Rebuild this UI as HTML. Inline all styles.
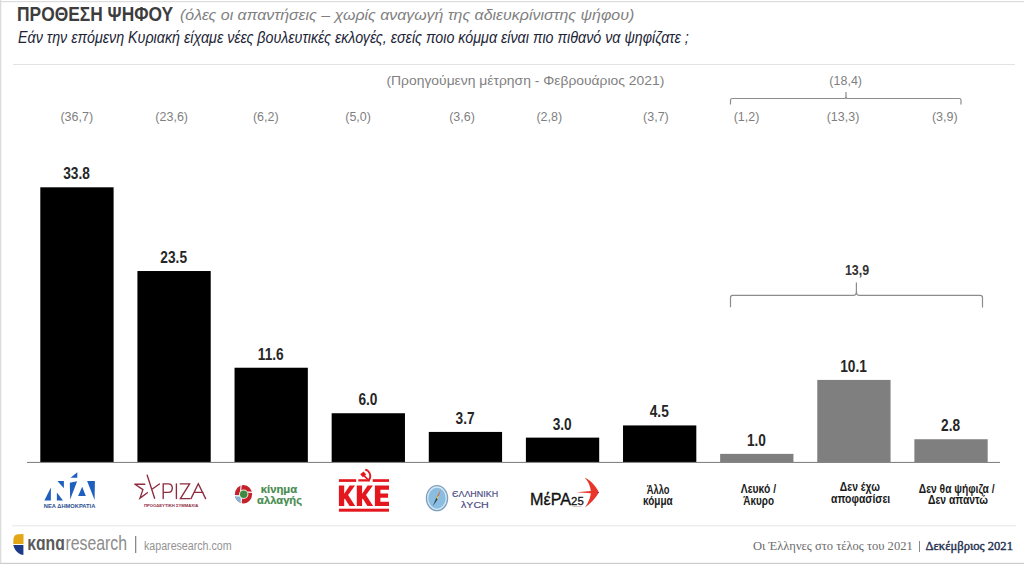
<!DOCTYPE html>
<html><head><meta charset="utf-8">
<style>
html,body{margin:0;padding:0;background:#fff;}
body{width:1024px;height:564px;overflow:hidden;position:relative;}
svg{position:absolute;left:0;top:0;display:block;}
text{font-family:"Liberation Sans",sans-serif;}
.val{font-size:16.5px;font-weight:bold;fill:#262626;text-anchor:middle;}
.prev{font-size:12.5px;fill:#7f7f7f;text-anchor:middle;}
</style></head><body>
<svg width="1024" height="564" viewBox="0 0 1024 564">
<rect x="0" y="0" width="1024" height="564" fill="#fff"/>
<rect x="0" y="1" width="1024" height="1.2" fill="#dcdcdc"/>
<rect x="0" y="0" width="1.3" height="564" fill="#dcdcdc"/>
<rect x="0" y="562.8" width="1024" height="1.2" fill="#cdcdcd"/>
<rect x="13" y="64" width="1002" height="1" fill="#e3e3e3"/>
<path d="M730.5,104.6 V100.3 Q730.5,98.5 732.3,98.5 H844.5 Q846,98.5 846,96 V92 M846,96 Q846,98.5 847.5,98.5 H959.2 Q961,98.5 961,100.3 V104.6" fill="none" stroke="#8c8c8c" stroke-width="1.2"/>
<text x="845.7" y="85" class="prev">(18,4)</text>
<text x="76.75" y="121.2" class="prev">(36,7)</text>
<text x="171.70" y="121.2" class="prev">(23,6)</text>
<text x="265.80" y="121.2" class="prev">(6,2)</text>
<text x="358.10" y="121.2" class="prev">(5,0)</text>
<text x="462.00" y="121.2" class="prev">(3,6)</text>
<text x="549.30" y="121.2" class="prev">(2,8)</text>
<text x="655.90" y="121.2" class="prev">(3,7)</text>
<text x="746.50" y="121.2" class="prev">(1,2)</text>
<text x="843.00" y="121.2" class="prev">(13,3)</text>
<text x="944.80" y="121.2" class="prev">(3,9)</text>
<rect x="40.30" y="187.31" width="73.3" height="274.69" fill="#000000"/>
<rect x="137.42" y="271.02" width="73.3" height="190.98" fill="#000000"/>
<rect x="234.54" y="367.73" width="73.3" height="94.27" fill="#000000"/>
<rect x="331.66" y="413.24" width="73.3" height="48.76" fill="#000000"/>
<rect x="428.78" y="431.93" width="73.3" height="30.07" fill="#000000"/>
<rect x="525.90" y="437.62" width="73.3" height="24.38" fill="#000000"/>
<rect x="623.02" y="425.43" width="73.3" height="36.57" fill="#000000"/>
<rect x="720.14" y="453.87" width="73.3" height="8.13" fill="#7f7f7f"/>
<rect x="817.26" y="379.92" width="73.3" height="82.08" fill="#7f7f7f"/>
<rect x="914.38" y="439.24" width="73.3" height="22.76" fill="#7f7f7f"/>
<rect x="27" y="461.9" width="973" height="1.1" fill="#858585"/>
<text transform="translate(76.55,179.21) scale(0.83,1)" class="val">33.8</text>
<text transform="translate(173.67,262.92) scale(0.83,1)" class="val">23.5</text>
<text transform="translate(270.79,359.63) scale(0.83,1)" class="val">11.6</text>
<text transform="translate(367.91,405.14) scale(0.83,1)" class="val">6.0</text>
<text transform="translate(465.03,423.83) scale(0.83,1)" class="val">3.7</text>
<text transform="translate(562.15,429.52) scale(0.83,1)" class="val">3.0</text>
<text transform="translate(659.27,417.33) scale(0.83,1)" class="val">4.5</text>
<text transform="translate(756.39,445.77) scale(0.83,1)" class="val">1.0</text>
<text transform="translate(853.51,371.82) scale(0.83,1)" class="val">10.1</text>
<text transform="translate(950.63,431.14) scale(0.83,1)" class="val">2.8</text>
<path d="M730.5,307.3 V297.5 Q730.5,295.3 732.5,295.3 H854 Q856.4,295.3 856.4,291 V282.5 M856.4,291 Q856.4,295.3 858.8,295.3 H980.3 Q982.5,295.3 982.5,297.5 V307.4" fill="none" stroke="#8c8c8c" stroke-width="1.2"/>
<text transform="translate(857,275) scale(0.89,1)" font-size="14" font-weight="bold" fill="#333" text-anchor="middle">13,9</text>
<text x="17.01" y="21" font-size="21" font-weight="bold" fill="#3d3d3d" textLength="156.09" lengthAdjust="spacingAndGlyphs">ΠΡΟΘΕΣΗ ΨΗΦΟΥ</text>
<text x="180.05" y="20" font-size="14" font-style="italic" fill="#7f7f7f" textLength="454.23" lengthAdjust="spacingAndGlyphs">(όλες οι απαντήσεις – χωρίς αναγωγή της αδιευκρίνιστης ψήφου)</text>
<text x="18.02" y="42.6" font-size="16" font-style="italic" fill="#1c2436" textLength="670.81" lengthAdjust="spacingAndGlyphs">Εάν την επόμενη Κυριακή είχαμε νέες βουλευτικές εκλογές, εσείς ποιο κόμμα είναι πιο πιθανό να ψηφίζατε ;</text>
<text x="386.45" y="85.2" font-size="12.5" fill="#7f7f7f" textLength="277.89" lengthAdjust="spacingAndGlyphs">(Προηγούμενη μέτρηση - Φεβρουάριος 2021)</text>
<text x="646.76" y="493.5" font-size="12.3" font-weight="bold" fill="#1a1a1a" textLength="22.70" lengthAdjust="spacingAndGlyphs">Άλλο</text>
<text x="643.00" y="505.4" font-size="12.3" font-weight="bold" fill="#1a1a1a" textLength="29.66" lengthAdjust="spacingAndGlyphs">κόμμα</text>
<text x="740.78" y="492.8" font-size="12.3" font-weight="bold" fill="#1a1a1a" textLength="35.27" lengthAdjust="spacingAndGlyphs">Λευκό /</text>
<text x="743.23" y="504.7" font-size="12.3" font-weight="bold" fill="#1a1a1a" textLength="30.73" lengthAdjust="spacingAndGlyphs">Άκυρο</text>
<text x="839.82" y="490.9" font-size="12.3" font-weight="bold" fill="#1a1a1a" textLength="40.04" lengthAdjust="spacingAndGlyphs">Δεν έχω</text>
<text x="831.00" y="502.5" font-size="12.3" font-weight="bold" fill="#1a1a1a" textLength="59.25" lengthAdjust="spacingAndGlyphs">αποφασίσει</text>
<text x="918.85" y="492.6" font-size="12.3" font-weight="bold" fill="#1a1a1a" textLength="75.73" lengthAdjust="spacingAndGlyphs">Δεν θα ψήφιζα /</text>
<text x="928.00" y="504.4" font-size="12.3" font-weight="bold" fill="#1a1a1a" textLength="60.03" lengthAdjust="spacingAndGlyphs">Δεν απαντώ</text>
<text x="144.00" y="549.8" font-size="12" fill="#939393" textLength="87.57" lengthAdjust="spacingAndGlyphs">kaparesearch.com</text>
<text x="752.99" y="549.7" style="font-family:&quot;Liberation Serif&quot;,serif" font-size="13.3" fill="#6b6b6b" textLength="159.73" lengthAdjust="spacingAndGlyphs">Οι Έλληνες στο τέλος του 2021</text>
<text x="925.45" y="549.7" style="font-family:&quot;Liberation Serif&quot;,serif" font-size="13" fill="#1f2f50" stroke="#1f2f50" stroke-width="0.4" textLength="87.49" lengthAdjust="spacingAndGlyphs">Δεκέμβριος 2021</text>
<path d="M23.5,534 L17.8,534.2 Q13.6,534.8 13.4,539.5 L13.3,544 L23.5,544 Z" fill="#e3a614"/>
<path d="M13.3,545 H23.4 V555 Q20.8,555 18.6,553.2 Q14.3,550 13.3,545 Z" fill="#1b3a88"/>
<text x="27.2" y="550.4" font-size="21" font-weight="bold" fill="#5a5a5a" textLength="37.6" lengthAdjust="spacingAndGlyphs">κɑnɑ</text>
<text x="65.4" y="550.4" font-size="20.5" fill="#8c8c8c" textLength="61.7" lengthAdjust="spacingAndGlyphs">research</text>
<rect x="135" y="536" width="1.3" height="17" fill="#8a8a8a"/>
<rect x="919" y="541" width="1" height="11" fill="#8a8a8a"/>
<rect x="12" y="525.3" width="1004" height="1" fill="#e6e6e6"/>
<!-- ND -->
<g fill="#1f5fbf">
<polygon points="44.4,500.6 50.9,487.6 50.9,500.6"/>
<polygon points="57.4,481.1 63.9,481.1 63.9,488.2"/>
<polygon points="56.9,492.6 56.9,500.6 63,500.6"/>
<polygon points="69.8,482.8 77.1,481.3 70.2,499.6"/>
<polygon points="70.5,477.8 77.3,472.2 77.3,477.8"/>
<polygon points="78.1,495.9 82.2,486.8 85.8,495.9"/>
<polygon points="87.1,481.1 94.9,481.1 94.6,500"/>
</g>
<text x="43.8" y="507.6" font-size="5.6" font-weight="bold" fill="#2b4f8f" textLength="51.5" lengthAdjust="spacingAndGlyphs">ΝΕΑ ΔΗΜΟΚΡΑΤΙΑ</text>
<!-- SYRIZA -->
<g fill="none" stroke="#8e2b40" stroke-width="1.35" stroke-linecap="round" stroke-linejoin="miter">
<path d="M134.9,484.2 H144.8 M134.9,484.2 L142.9,489.6 L140,498.1 L147.4,492.7"/>
<path d="M147.2,475.2 L154.6,498.3 M152.7,488.8 L159.4,484"/>
<path d="M163.2,498.6 V483.8 H168.2 Q172.3,483.8 172.3,488.1 Q172.3,492.4 168.2,492.4 H163.2"/>
<path d="M176.4,483.8 V498.6"/>
<path d="M180.2,483.8 H189.6 L180.4,498.6 H190"/>
<path d="M191,498.6 L198.3,483.8 L205.6,498.6 M194.5,492.4 H203"/>
</g>
<text x="143.9" y="506.6" font-size="4" font-weight="bold" fill="#8e2b40" textLength="54.5" lengthAdjust="spacingAndGlyphs">ΠΡΟΟΔΕΥΤΙΚΗ ΣΥΜΜΑΧΙΑ</text>
<!-- KINAL -->
<g>
<ellipse cx="243.5" cy="494.2" rx="8.6" ry="9.2" fill="#c4212b"/>
<path d="M243.6,494.3 L234.9,495.8 A8.6,9.2 0 0 0 241.2,503.1 Z" fill="#86b4d6"/>
<path d="M240.6,491.5 Q240.8,488 241.3,484.6 M246.8,492.2 Q249.5,492 252.6,492.4 M241.3,497.8 Q241.2,500.5 241.3,503.8 M240.3,495.9 Q237.5,495.9 234.5,495.6" fill="none" stroke="#fff" stroke-width="1.1"/>
<circle cx="243.7" cy="494.3" r="4.7" fill="#f7e6dc"/>
<circle cx="243.7" cy="494.3" r="3.7" fill="#3b8c42"/>
</g>
<text x="260.8" y="492.5" font-size="11.5" font-weight="bold" fill="#478c50" stroke="#478c50" stroke-width="0.2" textLength="36.4" lengthAdjust="spacingAndGlyphs">κίνημα</text>
<text x="257.1" y="503.6" font-size="11.5" font-weight="bold" fill="#478c50" stroke="#478c50" stroke-width="0.2" textLength="44.9" lengthAdjust="spacingAndGlyphs">αλλαγής</text>
<!-- KKE -->
<g fill="#e3171d">
<rect x="338.9" y="479.2" width="17.3" height="2.7"/>
<rect x="372.7" y="479.2" width="16.3" height="2.7"/>
<rect x="338.9" y="508.7" width="50.1" height="3"/>
<path d="M365.2,469.6 A6.2,6.6 0 0 1 368.6,480.6" fill="none" stroke="#e3171d" stroke-width="1.8"/>
<polygon points="358.3,479.3 366.5,479.3 370,481.6 358.3,481.6"/>
<polygon points="360.2,474.2 363.6,471.6 366.2,474.6 362.8,477.2"/>
<path d="M363.8,475.4 L369.3,481" stroke="#e3171d" stroke-width="1.7"/>
</g>
<g fill="#e3171d"><polygon points="338.9,485.4 344.2,485.4 344.2,493.7 349.7,485.4 355.0,485.4 348.1,495.0 355.2,506.0 349.5,506.0 344.8,498.6 344.2,499.4 344.2,506.0 338.9,506.0"/><polygon points="356.8,485.4 362.1,485.4 362.1,493.7 367.6,485.4 372.9,485.4 366.0,495.0 373.1,506.0 367.4,506.0 362.7,498.6 362.1,499.4 362.1,506.0 356.8,506.0"/><polygon points="374.9,485.4 389.0,485.4 389.0,489.7 380.4,489.7 380.4,493.5 388.1,493.5 388.1,497.7 380.4,497.7 380.4,501.7 389.0,501.7 389.0,506.0 374.9,506.0"/></g>
<!-- Elliniki Lysi -->
<g>
<ellipse cx="437" cy="498.2" rx="10.6" ry="12.5" fill="#d3ebf7" stroke="#809fbe" stroke-width="1.3"/>
<ellipse cx="437" cy="498.2" rx="8.7" ry="10.5" fill="#8bbde0"/>
<polygon points="440.9,489.2 438.9,495.5 436.3,497.8" fill="#e4602e"/>
<polygon points="438.9,495.5 436.3,497.8 435.8,501 437.6,499.2" fill="#f0c53a"/>
<polygon points="436.3,497.8 437.6,499.2 432.7,506.4" fill="#2a3d5c"/>
</g>
<text x="452" y="496.9" font-size="8.6" fill="#4a4a82" stroke="#4a4a82" stroke-width="0.15" textLength="46.2" lengthAdjust="spacingAndGlyphs">ЄΛΛΗΝΙΚΗ</text>
<text x="461" y="507.9" font-size="8.6" fill="#4a4a82" stroke="#4a4a82" stroke-width="0.15" textLength="27.8" lengthAdjust="spacingAndGlyphs">λΥCΗ</text>
<!-- MeRA25 -->
<text x="530" y="504.7" font-size="16.5" fill="#111" stroke="#111" stroke-width="0.35" textLength="41" lengthAdjust="spacingAndGlyphs">ΜέΡΑ</text>
<text x="571.1" y="504.5" font-size="11.4" fill="#111" stroke="#111" stroke-width="0.3" textLength="12.6" lengthAdjust="spacingAndGlyphs">25</text>
<path d="M584.6,477.4 C591,480.5 596.5,486.5 598.9,492.5 C595.5,498.5 590.5,503.5 585.1,507.4 C588.6,502 590.6,497 590.8,493.2 L576.4,492.3 L590.8,491 C590.4,486 588.2,481.2 584.6,477.4 Z" fill="#e8362a"/><circle cx="598.2" cy="492.5" r="0.6" fill="#6a2020"/>
<rect x="572.5" y="506.2" width="9" height="0.9" fill="#c8bcbc"/>

</svg>
</body></html>
